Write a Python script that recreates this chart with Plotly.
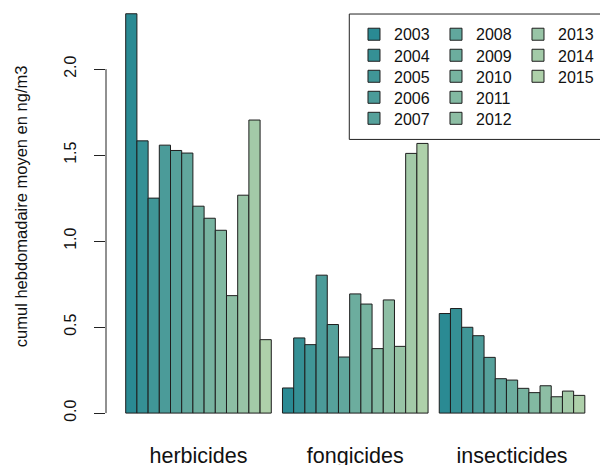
import plotly.graph_objects as go

# Pesticide families (one group of bars each) and sampling years
categories = ["herbicides", "fongicides", "insecticides"]
years = ["2003", "2004", "2005", "2006", "2007", "2008", "2009",
         "2010", "2011", "2012", "2013", "2014", "2015"]

# Mean weekly cumulative concentration (ng/m3) per year, one list per family
herbicides = [2.322, 1.583, 1.250, 1.558, 1.527, 1.512, 1.203,
              1.133, 1.063, 0.683, 1.267, 1.704, 0.427]
fongicides = [0.146, 0.437, 0.398, 0.802, 0.515, 0.326, 0.693,
              0.634, 0.375, 0.658, 0.388, 1.510, 1.568]
insecticides = [0.579, 0.608, 0.499, 0.450, 0.324, 0.200, 0.192,
                0.144, 0.119, 0.159, 0.095, 0.128, 0.103]

# Teal-to-sage colour ramp, one shade per year
colors = ["#2a8a93", "#359095", "#409697", "#4b9b99", "#56a19b",
          "#61a79d", "#6cad9e", "#77b3a0", "#82b9a2", "#8dbea4",
          "#98c4a6", "#a3caa8", "#aed0aa"]

y_ticks = [0.0, 0.5, 1.0, 1.5, 2.0]

FONT = "Liberation Sans, Arial, sans-serif"
TEXT = "#111"

# Geometry of the plotting area (pixels)
PLOT_LEFT, PLOT_H = 106, 428.6

# Legend grid: 5 rows, filled column by column
LEG_ROWS = 5
LEG_COL_X = [0.502, 0.668, 0.834]          # paper x of each column
LEG_ROW0_PX, LEG_ROW_STEP_PX = 34.3, 21.0  # first row centre and row pitch

fig = go.Figure()
layout_legends = {}
for i, year in enumerate(years):
    legend_id = "legend" if i == 0 else f"legend{i + 1}"
    col, row = divmod(i, LEG_ROWS)
    fig.add_trace(go.Bar(
        x=categories,
        y=[herbicides[i], fongicides[i], insecticides[i]],
        name=year,
        marker=dict(color=colors[i], line=dict(color="#1e1e1e", width=1)),
        legend=legend_id,
    ))
    centre_px = LEG_ROW0_PX + row * LEG_ROW_STEP_PX
    layout_legends[legend_id] = dict(
        x=LEG_COL_X[col], y=1 - centre_px / PLOT_H,
        xanchor="left", yanchor="middle", orientation="v",
        bgcolor="rgba(0,0,0,0)", borderwidth=0,
        font=dict(family=FONT, size=16, color=TEXT),
    )

fig.update_layout(
    width=600, height=465,
    margin=dict(l=PLOT_LEFT, r=0, t=0, b=465 - PLOT_H, pad=0),
    paper_bgcolor="white", plot_bgcolor="white",
    barmode="group", bargap=1 / 14, bargroupgap=0,
    font=dict(family=FONT, color=TEXT),
    showlegend=True,
    xaxis=dict(
        range=[-0.590, 2.561], showline=False, showgrid=False, zeroline=False,
        ticks="", tickfont=dict(size=21.5, color=TEXT),
        ticklabelstandoff=11, automargin=False,
    ),
    yaxis=dict(
        range=[-0.0925, 2.402], showline=False, showgrid=False, zeroline=False,
        tickmode="array", tickvals=y_ticks, tickformat=".1f",
        ticks="outside", ticklen=11, tickwidth=1, tickcolor="#222",
        tickangle=-90, tickfont=dict(size=16, color=TEXT),
        ticklabelstandoff=12, automargin=False,
    ),
    **layout_legends,
)

# Y axis title
fig.add_annotation(
    text="cumul hebdomadaire moyen en ng/m3", textangle=-90,
    xref="paper", yref="paper", x=(21 - PLOT_LEFT) / 494, y=1 - 206 / PLOT_H,
    xanchor="center", yanchor="middle", showarrow=False,
    font=dict(family=FONT, size=16.5, color=TEXT),
)

# R-style y axis line spanning only the labelled tick range
fig.add_shape(type="line", xref="paper", yref="y",
              x0=0, x1=0, y0=y_ticks[0], y1=y_ticks[-1],
              line=dict(color="#222", width=1))

# Frame around the legend grid
fig.add_shape(type="rect", xref="paper", yref="paper",
              x0=0.4925, x1=1.02, y0=0.675, y1=0.9673,
              line=dict(color="#222", width=1), fillcolor="rgba(0,0,0,0)",
              layer="above")

fig.write_html("out.html")
